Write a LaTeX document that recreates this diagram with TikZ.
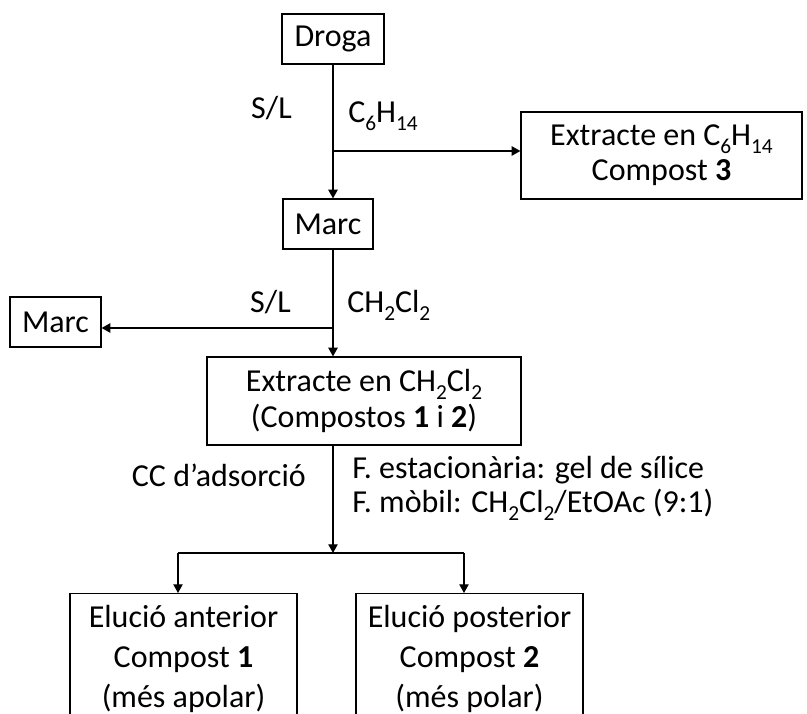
\documentclass[tikz,border=0pt]{standalone}
\usepackage{fontspec}
\setmainfont{Carlito}
\usetikzlibrary{arrows.meta}
% lowered, smaller digits for chemical formulae
\newcommand\sbx[1]{\raisebox{-0.25em}{\fontsize{16}{16}\selectfont #1}}

\begin{document}
\begin{tikzpicture}[x=0.75pt,y=-0.75pt,
  box/.style={draw, line width=0.9pt, inner sep=0pt, align=center,
              font=\fontsize{24}{26.5}\selectfont},
  lbl/.style={inner sep=0pt, font=\fontsize{24}{26}\selectfont},
  arr/.style={line width=0.9pt, -{Triangle[length=6.5pt,width=7pt]}},
  ln/.style={line width=0.9pt}]
\clip (0,0) rectangle (807,714);
\useasboundingbox (0,0) rectangle (807,714);

% boxes
\node[box, minimum width=76.5pt, minimum height=37.5pt] (droga) at (333,39) {Droga};
\node[box, minimum width=67.5pt, minimum height=37.5pt] (marc1) at (328,224) {Marc};
\node[box, minimum width=210.75pt, minimum height=65.25pt] (ext6) at (661.5,155.5)
  {Extracte en C\sbx{6}H\sbx{14}\\Compost \textbf{3}};
\node[box, minimum width=68.25pt, minimum height=37.5pt] (marc2) at (55.5,322) {Marc};
\node[box, minimum width=235.5pt, minimum height=66pt] (extch) at (364,401)
  {Extracte en CH\sbx{2}Cl\sbx{2}\\(Compostos \textbf{1} i \textbf{2})};
\node[box, anchor=north, minimum width=170.25pt, minimum height=97.5pt,
      font=\fontsize{24}{30}\selectfont] (elu1) at (183.5,593)
  {Elució anterior\\Compost \textbf{1}\\(més apolar)};
\node[box, anchor=north, minimum width=170.25pt, minimum height=97.5pt,
      font=\fontsize{24}{30}\selectfont] (elu2) at (469.5,593)
  {Elució posterior\\Compost \textbf{2}\\(més polar)};

% branch points on the main line and on the split
\coordinate (j1) at (333,151);
\coordinate (j2) at (333,328);
\coordinate (j3) at (333,553);
\coordinate (b1) at (178,553);
\coordinate (b2) at (464,553);

% connectors
\draw[arr] (j1 |- droga.south) -- (j1 |- marc1.north);
\draw[arr] (j1) -- (j1 -| ext6.west);
\draw[arr] (j2 |- marc1.south) -- (j2 |- extch.north);
\draw[arr] (j2) -- (j2 -| marc2.east);
\draw[arr] (j3 |- extch.south) -- (j3);
\draw[ln] (b1) -- (b2);
\draw[arr] (b1) -- (b1 |- elu1.north);
\draw[arr] (b2) -- (b2 |- elu2.north);

% step labels
\node[lbl, anchor=base east] (sl1) at (292,118) {S/L};
\node[lbl, anchor=base west] (hex) at (348,122) {C\sbx{6}H\sbx{14}};
\node[lbl, anchor=base east] (sl2) at (291,312) {S/L};
\node[lbl, anchor=base west] (dcm) at (347,312) {CH\sbx{2}Cl\sbx{2}};
\node[lbl, anchor=base east] (cc) at (306,486) {CC d’adsorció};
\node[lbl, anchor=base west] (fest) at (352,478) {F. estacionària: gel de sílice};
\node[lbl, anchor=base west] (fmob) at (352,512) {F. mòbil: CH\sbx{2}Cl\sbx{2}/EtOAc (9:1)};
\end{tikzpicture}
\end{document}
